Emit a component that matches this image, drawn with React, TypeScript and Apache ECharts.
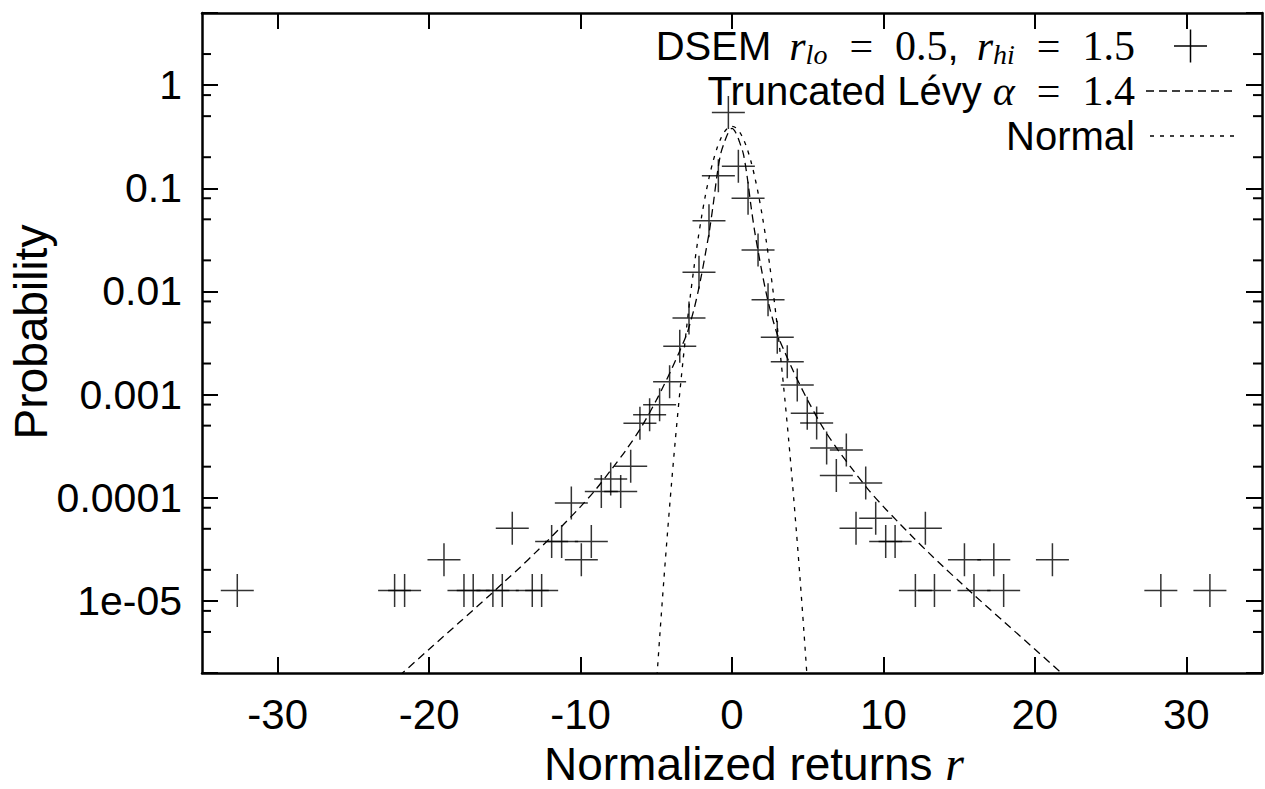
import React, { useEffect, useRef } from 'react';
import * as echarts from 'echarts';

// ---- DSEM histogram points (x = normalized return, y = probability) ----
const dsemX = [
  -32.67, -22.28, -21.62, -19.02, -17.7, -17.09, -15.79, -15.17, -14.51, -13.19,
  -12.57, -11.91, -11.25, -10.61, -9.95, -9.29, -8.63, -8.01, -7.35, -6.69,
  -6.08, -5.44, -4.78, -4.12, -3.45, -2.84, -2.18, -1.52, -0.9, -0.24,
  0.42, 1.06, 1.72, 2.38, 2.99, 3.65, 4.31, 4.97, 5.59, 6.25,
  6.89, 7.55, 8.19, 8.83, 9.49, 10.15, 10.77, 12.11, 12.77, 13.37,
  15.35, 15.98, 17.29, 17.94, 21.16, 28.32, 31.56,
];
const dsemY = [
  1.26e-5, 1.26e-5, 1.26e-5, 2.51e-5, 1.26e-5, 1.26e-5, 1.26e-5, 1.26e-5, 5.06e-5, 1.26e-5,
  1.26e-5, 3.76e-5, 3.76e-5, 8.9e-5, 2.51e-5, 3.76e-5, 1.15e-4, 1.52e-4, 1.15e-4, 2.02e-4,
  5.27e-4, 6.38e-4, 7.98e-4, 1.33e-3, 2.94e-3, 5.52e-3, 0.0153, 0.0484, 0.132, 0.543,
  0.163, 0.0798, 0.0252, 0.00831, 0.00359, 0.00208, 0.00124, 6.59e-4, 5.31e-4, 3.04e-4,
  1.64e-4, 2.9e-4, 5.06e-5, 1.39e-4, 6.33e-5, 3.76e-5, 3.76e-5, 1.26e-5, 5.06e-5, 1.26e-5,
  2.51e-5, 1.26e-5, 2.51e-5, 1.26e-5, 2.51e-5, 1.26e-5, 1.26e-5,
];

// ---- Truncated Lévy curve ----
const levyX = [
  -22, -20, -18, -16, -15, -14, -13, -12, -11, -10, -9, -8, -7, -6, -5, -4.5, -4, -3.5, -3,
  -2.75, -2.5, -2.25, -2, -1.75, -1.5, -1.25, -1, -0.75, -0.5, -0.25, 0,
  0.25, 0.5, 0.75, 1, 1.25, 1.5, 1.75, 2, 2.25, 2.5, 2.75, 3, 3.5, 4, 4.5, 5, 6, 7, 8, 9,
  10, 11, 12, 13, 14, 15, 16, 18, 20, 22,
];
const levyY = [
  1.86e-6, 3.4e-6, 6.2e-6, 1.135e-5, 1.55e-5, 2.11e-5, 2.92e-5, 4.07e-5, 5.75e-5, 8.2e-5, 1.2e-4,
  1.85e-4, 2.9e-4, 4.8e-4, 8.8e-4, 1.23e-3, 1.75e-3, 2.55e-3, 3.8e-3,
  5.0e-3, 6.8e-3, 9.8e-3, 0.0148, 0.0235, 0.038, 0.068, 0.13, 0.215, 0.28, 0.345, 0.38,
  0.345, 0.28, 0.215, 0.13, 0.068, 0.038, 0.0235, 0.0148, 9.8e-3, 6.8e-3, 5.0e-3, 3.8e-3,
  2.55e-3, 1.75e-3, 1.23e-3, 8.8e-4, 4.8e-4, 2.9e-4, 1.85e-4, 1.2e-4,
  8.2e-5, 5.75e-5, 4.07e-5, 2.92e-5, 2.11e-5, 1.55e-5, 1.135e-5, 6.2e-6, 3.4e-6, 1.86e-6,
];

// ---- Normal curve ----
const normalX = [
  -5, -4.75, -4.5, -4.25, -4, -3.75, -3.5, -3.25, -3, -2.75, -2.5, -2.25, -2, -1.75, -1.5,
  -1.25, -1, -0.75, -0.5, -0.25, 0, 0.25, 0.5, 0.75, 1, 1.25, 1.5, 1.75, 2, 2.25, 2.5,
  2.75, 3, 3.25, 3.5, 3.75, 4, 4.25, 4.5, 4.75, 5,
];
const normalY = [
  1.49e-6, 5.03e-6, 1.6e-5, 4.77e-5, 1.34e-4, 3.53e-4, 8.73e-4, 2.03e-3, 4.43e-3, 9.09e-3,
  0.0175, 0.0317, 0.054, 0.0863, 0.1295, 0.1826, 0.242, 0.3011, 0.3521, 0.3867, 0.3989,
  0.3867, 0.3521, 0.3011, 0.242, 0.1826, 0.1295, 0.0863, 0.054, 0.0317, 0.0175,
  9.09e-3, 4.43e-3, 2.03e-3, 8.73e-4, 3.53e-4, 1.34e-4, 4.77e-5, 1.6e-5, 5.03e-6, 1.49e-6,
];

// ---- Axes ----
const xMin = -35;
const xMax = 35;
const xTicks = [-30, -20, -10, 0, 10, 20, 30];
const yMin = 2e-6;
const yMax = 5;
const yTickValues = [1, 0.1, 0.01, 0.001, 0.0001, 0.00001];
const yTickLabels = ['1', '0.1', '0.01', '0.001', '0.0001', '1e-05'];
const yMinorTicks = [
  5e-6, 8e-6, 2e-5, 5e-5, 8e-5, 2e-4, 5e-4, 8e-4, 2e-3, 5e-3, 8e-3,
  0.02, 0.05, 0.08, 0.2, 0.5, 0.8, 2,
];

const SANS = 'Liberation Sans';
const SERIF = 'Liberation Serif';

export default function App() {
  const ref = useRef<HTMLDivElement>(null);

  useEffect(() => {
    if (!ref.current) return;
    const chart = echarts.init(ref.current, undefined, { renderer: 'svg' });

    const dsemData = dsemX.map((x, i) => [x, dsemY[i]]);
    const levyData = levyX.map((x, i) => [x, levyY[i]]);
    const normalData = normalX.map((x, i) => [x, normalY[i]]);

    const axisLine = { show: true, onZero: false, lineStyle: { color: '#000', width: 2.5 } };
    const tickStyle = { color: '#000', width: 2 };

    const yFormatter = (v: number) => {
      const idx = yTickValues.findIndex((t) => Math.abs(Math.log10(v) - Math.log10(t)) < 1e-6);
      return idx >= 0 ? yTickLabels[idx] : '';
    };

    const legendText = { fill: '#000', align: 'right', verticalAlign: 'middle' };
    const rich = {
      s: { fontFamily: SANS, fontSize: 40, color: '#000', lineHeight: 38 },
      sp: { fontFamily: SANS, fontSize: 40, color: '#000', lineHeight: 38, padding: [0, 18, 0, 0] },
      m: { fontFamily: SERIF, fontStyle: 'italic', fontSize: 42, color: '#000', lineHeight: 38 },
      n: { fontFamily: SERIF, fontSize: 42, color: '#000', lineHeight: 38 },
      eq: { fontFamily: SERIF, fontSize: 42, color: '#000', lineHeight: 38, padding: [0, 22, 0, 22] },
      sub: { fontFamily: SERIF, fontStyle: 'italic', fontSize: 28, color: '#000', lineHeight: 22, padding: [16, 0, 0, 0] },
    };

    chart.setOption({
      animation: false,
      backgroundColor: '#fff',
      grid: { left: 202, right: 3, top: 13, bottom: 116, containLabel: false, outerBoundsMode: 'none' },
      xAxis: [
        {
          type: 'value',
          min: xMin,
          max: xMax,
          position: 'bottom',
          axisLine,
          axisTick: { show: true, inside: true, length: 16, lineStyle: tickStyle, customValues: xTicks },
          axisLabel: {
            customValues: xTicks,
            fontFamily: SANS,
            fontSize: 42,
            color: '#000',
            margin: 20,
          },
          splitLine: { show: false },
          name: '{t|Normalized returns }{m|r}',
          nameLocation: 'middle',
          nameGap: 57,
          nameTextStyle: {
            padding: [0, 0, 0, 44],
            rich: {
              t: { fontFamily: SANS, fontSize: 46, color: '#000' },
              m: { fontFamily: SERIF, fontStyle: 'italic', fontSize: 48, color: '#000' },
            },
          },
        },
        {
          type: 'value',
          min: xMin,
          max: xMax,
          position: 'top',
          axisLine,
          axisTick: { show: true, inside: true, length: 16, lineStyle: tickStyle, customValues: xTicks },
          axisLabel: { show: false },
          splitLine: { show: false },
        },
      ],
      yAxis: [
        {
          type: 'log',
          logBase: 10,
          min: yMin,
          max: yMax,
          position: 'left',
          axisLine,
          axisTick: { show: true, inside: true, length: 16, lineStyle: tickStyle },
          minorTick: { show: false },
          axisLabel: {
            formatter: yFormatter,
            fontFamily: SANS,
            fontSize: 41,
            color: '#000',
            margin: 20,
          },
          splitLine: { show: false },
          name: 'Probability',
          nameLocation: 'middle',
          nameMoveOverlap: false,
          nameGap: 148,
          nameTextStyle: { fontFamily: SANS, fontSize: 46, color: '#000', padding: [0, 0, 0, 22] },
        },
        {
          type: 'log',
          logBase: 10,
          min: yMin,
          max: yMax,
          position: 'right',
          axisLine,
          axisTick: { show: true, inside: true, length: 16, lineStyle: tickStyle },
          axisLabel: { show: false },
          splitLine: { show: false },
        },
      ],
      series: [
        {
          name: 'DSEM r_lo = 0.5, r_hi = 1.5',
          type: 'scatter',
          data: dsemData,
          symbol: 'path://M0,-1L0,1M-1,0L1,0',
          symbolSize: 33,
          itemStyle: { color: 'transparent', borderColor: '#000', borderWidth: 1.5 },
          clip: true,
          z: 4,
        },
        {
          name: 'Truncated Lévy α = 1.4',
          type: 'line',
          data: levyData,
          showSymbol: false,
          symbol: 'none',
          smooth: 0.3,
          lineStyle: { color: '#000', width: 1.3, type: [8, 5] },
          clip: true,
          z: 3,
        },
        {
          name: 'Normal',
          type: 'line',
          data: normalData,
          showSymbol: false,
          symbol: 'none',
          smooth: 0.3,
          lineStyle: { color: '#000', width: 1.3, type: [4, 6] },
          clip: true,
          z: 3,
        },
        {
          name: 'minor ticks',
          type: 'custom',
          silent: true,
          clip: false,
          z: 5,
          data: yMinorTicks.map((v) => [xMin, v]),
          encode: { x: 0, y: 1 },
          renderItem: (_params: any, api: any) => {
            const v = api.value(1);
            const l = api.coord([xMin, v]);
            const r = api.coord([xMax, v]);
            return {
              type: 'group',
              children: [
                { type: 'line', shape: { x1: l[0], y1: l[1], x2: l[0] + 9, y2: l[1] }, style: { stroke: '#000', lineWidth: 2 } },
                { type: 'line', shape: { x1: r[0] - 9, y1: r[1], x2: r[0], y2: r[1] }, style: { stroke: '#000', lineWidth: 2 } },
              ],
            };
          },
        },
      ],
      graphic: [
        {
          type: 'text',
          x: 1135,
          y: 46,
          style: {
            ...legendText,
            text: '{sp|DSEM}{m|r}{sub|lo}{eq|=}{n|0.5}{sp|,}{m|r}{sub|hi}{eq|=}{n|1.5}',
            rich,
          },
        },
        { type: 'line', shape: { x1: 1174, y1: 46, x2: 1207, y2: 46 }, style: { stroke: '#000', lineWidth: 1.5 } },
        { type: 'line', shape: { x1: 1190.5, y1: 29.5, x2: 1190.5, y2: 62.5 }, style: { stroke: '#000', lineWidth: 1.5 } },
        {
          type: 'text',
          x: 1135,
          y: 91,
          style: {
            ...legendText,
            text: '{s|Truncated Lévy }{m|α}{eq|=}{n|1.4}',
            rich,
          },
        },
        { type: 'line', shape: { x1: 1146, y1: 91, x2: 1236, y2: 91 }, style: { stroke: '#000', lineWidth: 1.3, lineDash: [8, 5] } },
        {
          type: 'text',
          x: 1135,
          y: 136,
          style: {
            ...legendText,
            text: '{s|Normal}',
            rich,
          },
        },
        { type: 'line', shape: { x1: 1150, y1: 136, x2: 1236, y2: 136 }, style: { stroke: '#000', lineWidth: 1.3, lineDash: [4, 6] } },
      ],
    });

    return () => chart.dispose();
  }, []);

  return (
    <div
      ref={ref}
      style={{ position: 'fixed', left: 0, top: 0, width: 1265, height: 789, background: '#fff' }}
    />
  );
}
